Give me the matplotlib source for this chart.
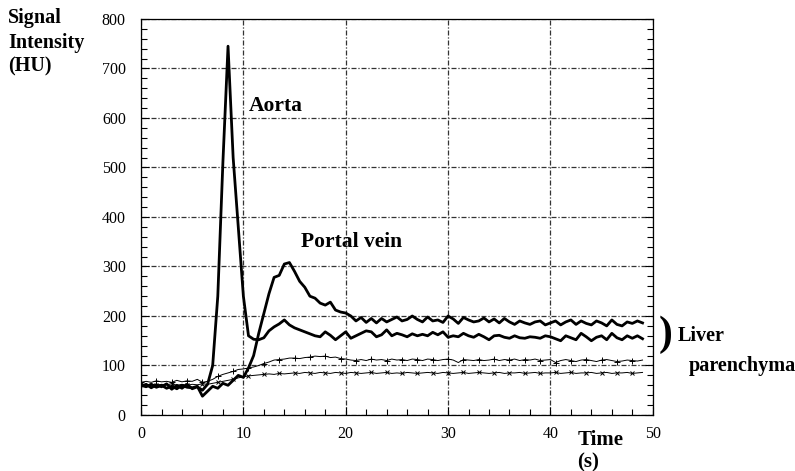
import matplotlib
matplotlib.use("Agg")
import matplotlib.pyplot as plt
from matplotlib.ticker import MultipleLocator

plt.rcParams["font.family"] = ["Liberation Serif", "DejaVu Serif"]

# time axis (s), sampled every 0.5 s
time_s = [i * 0.5 for i in range(99)]

aorta = [
    58, 62, 55, 61, 57, 63, 52, 60, 54, 62,
    53, 57, 50, 62, 100, 240, 511, 745, 520, 380,
    240, 160, 153, 152, 156, 170, 178, 184, 192, 182,
    176, 172, 168, 164, 160, 158, 168, 161, 152, 160,
    168, 155, 160, 165, 170, 168, 158, 162, 172, 160,
    165, 162, 158, 164, 160, 163, 160, 167, 162, 168,
    157, 160, 158, 165, 160, 157, 163, 158, 152, 160,
    161, 157, 155, 160, 156, 155, 158, 157, 155, 160,
    158, 154, 150, 160, 156, 152, 165, 158, 150, 157,
    160, 152, 165, 156, 152, 160, 155, 160, 154,
]

portal_vein = [
    60, 57, 62, 56, 60, 54, 58, 53, 60, 56,
    55, 58, 38, 48, 58, 54, 64, 60, 70, 80,
    76, 95, 120, 165, 205, 245, 278, 282, 305, 308,
    290, 270, 258, 240, 236, 226, 222, 228, 212, 208,
    206, 200, 190, 197, 187, 195, 186, 195, 188, 193,
    198, 190, 193, 200, 193, 188, 198, 190, 192, 187,
    200, 194, 185, 197, 192, 188, 190, 196, 188, 194,
    186, 195, 188, 183, 190, 186, 183, 188, 190, 182,
    186, 190, 182, 188, 192, 183, 190, 185, 182, 190,
    186, 180, 192, 183, 180, 188, 185, 190, 186,
]

liver_plus = [
    66, 68, 66, 69, 67, 68, 66, 70, 67, 69,
    68, 72, 66, 68, 72, 78, 82, 85, 88, 92,
    93, 95, 97, 100, 104, 107, 111, 112, 113, 115,
    115, 114, 116, 117, 119, 118, 119, 116, 117, 114,
    113, 111, 110, 112, 110, 113, 111, 112, 110, 113,
    111, 112, 110, 113, 112, 110, 113, 112, 110, 112,
    113, 111, 106, 112, 111, 110, 112, 110, 111, 113,
    110, 112, 111, 113, 110, 112, 111, 113, 110, 111,
    112, 106, 110, 112, 110, 108, 111, 112, 110, 108,
    111, 112, 110, 108, 109, 111, 110, 109, 111,
]

liver_cross = [
    62, 60, 63, 60, 62, 61, 63, 60, 62, 60,
    62, 61, 63, 62, 64, 66, 68, 70, 72, 75,
    77, 79, 80, 81, 82, 83, 82, 84, 83, 84,
    85, 84, 86, 85, 84, 86, 85, 84, 86, 85,
    84, 86, 85, 84, 85, 86, 84, 85, 86, 84,
    85, 84, 86, 85, 84, 85, 86, 85, 84, 86,
    85, 84, 85, 86, 84, 85, 86, 85, 84, 85,
    86, 84, 85, 85, 86, 84, 85, 86, 84, 85,
    85, 86, 84, 85, 86, 84, 85, 85, 86, 84,
    85, 86, 84, 85, 85, 86, 84, 85, 86,
]

fig = plt.figure(figsize=(7.95, 4.71), dpi=100)
ax = fig.add_axes([0.1774, 0.1189, 0.6437, 0.8408])

ax.plot(time_s, liver_cross, color="black", lw=0.7, marker="x", ms=3.5,
        mew=0.7, markevery=3)
ax.plot(time_s, liver_plus, color="black", lw=0.7, marker="+", ms=4,
        mew=0.7, markevery=3)
ax.plot(time_s, portal_vein, color="black", lw=2.0)
ax.plot(time_s, aorta, color="black", lw=2.0)

ax.set_xlim(0, 50)
ax.set_ylim(0, 800)
ax.xaxis.set_major_locator(MultipleLocator(10))
ax.xaxis.set_minor_locator(MultipleLocator(2))
ax.yaxis.set_major_locator(MultipleLocator(100))
ax.yaxis.set_minor_locator(MultipleLocator(20))
ax.tick_params(which="both", direction="in", right=True, top=False,
               labelsize=11.5, width=0.8)
ax.tick_params(which="major", length=6)
ax.tick_params(which="minor", length=4.5)
ax.tick_params(axis="y", pad=11)
ax.tick_params(axis="x", pad=8)
ax.grid(True, which="major", color="0.2", lw=0.9,
        linestyle=(0, (4, 1.5, 1, 1.5)))
for s in ax.spines.values():
    s.set_linewidth(0.9)

ax.text(10.5, 624, "Aorta", fontsize=15.5, fontweight="bold", va="center")
ax.text(15.6, 350, "Portal vein", fontsize=15.5, fontweight="bold",
        va="center")

fig.text(0.010, 0.982, "Signal\nIntensity\n(HU)", fontsize=14.5,
         fontweight="bold", va="top", ha="left", linespacing=1.28)
fig.text(0.837, 0.289, ")", fontsize=30, fontweight="bold",
         ha="center", va="center")
fig.text(0.852, 0.2866, "Liver", fontsize=14.5, fontweight="bold", va="center")
fig.text(0.866, 0.2229, "parenchyma", fontsize=14.5, fontweight="bold",
         va="center")
fig.text(0.726, 0.066, "Time", fontsize=15, fontweight="bold", va="center")
fig.text(0.726, 0.019, "(s)", fontsize=15, fontweight="bold", va="center")

fig.savefig("out.png", dpi=100)
